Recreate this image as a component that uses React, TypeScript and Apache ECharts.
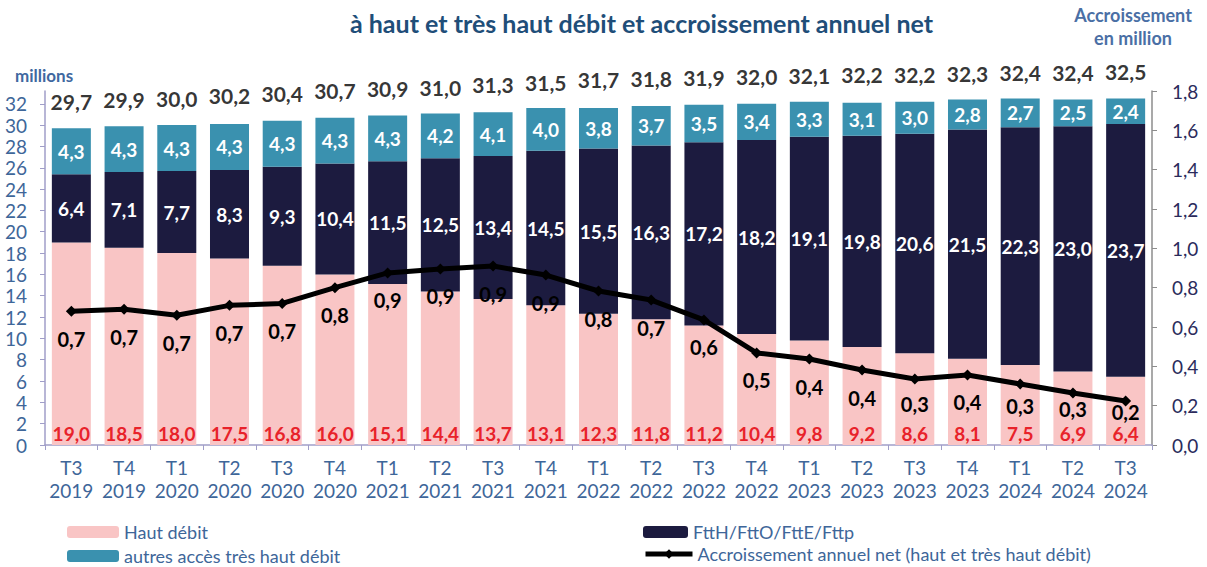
import React, { useEffect, useRef } from "react";
import * as echarts from "echarts";

const categories = [
  "T3\n2019", "T4\n2019", "T1\n2020", "T2\n2020", "T3\n2020", "T4\n2020",
  "T1\n2021", "T2\n2021", "T3\n2021", "T4\n2021", "T1\n2022", "T2\n2022",
  "T3\n2022", "T4\n2022", "T1\n2023", "T2\n2023", "T3\n2023", "T4\n2023",
  "T1\n2024", "T2\n2024", "T3\n2024",
];
const hautDebit = [19.0, 18.5, 18.0, 17.5, 16.8, 16.0, 15.1, 14.4, 13.7, 13.1, 12.3, 11.8, 11.2, 10.4, 9.8, 9.2, 8.6, 8.1, 7.5, 6.9, 6.4];
const ftth = [6.4, 7.1, 7.7, 8.3, 9.3, 10.4, 11.5, 12.5, 13.4, 14.5, 15.5, 16.3, 17.2, 18.2, 19.1, 19.8, 20.6, 21.5, 22.3, 23.0, 23.7];
const autres = [4.3, 4.3, 4.3, 4.3, 4.3, 4.3, 4.3, 4.2, 4.1, 4.0, 3.8, 3.7, 3.5, 3.4, 3.3, 3.1, 3.0, 2.8, 2.7, 2.5, 2.4];
const totals = [29.7, 29.9, 30.0, 30.2, 30.4, 30.7, 30.9, 31.0, 31.3, 31.5, 31.7, 31.8, 31.9, 32.0, 32.1, 32.2, 32.2, 32.3, 32.4, 32.4, 32.5];
const accroissement = [0.68, 0.69, 0.66, 0.71, 0.72, 0.80, 0.875, 0.895, 0.91, 0.864, 0.783, 0.737, 0.636, 0.468, 0.437, 0.381, 0.336, 0.356, 0.31, 0.264, 0.224];
const leftTicks = [0, 2, 4, 6, 8, 10, 12, 14, 16, 18, 20, 22, 24, 26, 28, 30, 32];

const FONT = "Lato";
const fmt = (v: number) => v.toFixed(1).replace(".", ",");

export default function App() {
  const ref = useRef<HTMLDivElement>(null);
  useEffect(() => {
    const chart = echarts.init(ref.current!, null, { renderer: "svg" });
    const axisBlue = "#3e6699";
    const legendText = { fontFamily: FONT, fontSize: 18, color: axisBlue };
    const mkLegend = (name: string, left: number, top: number, w: number) => ({
      left,
      top,
      itemWidth: w,
      itemHeight: 12,
      itemGap: 6,
      data: [name],
      textStyle: legendText,
      lineStyle: { width: 5 },
    });
    chart.setOption({
      animation: false,
      textStyle: { fontFamily: FONT },
      title: [
        {
          text: "à haut et très haut débit et accroissement annuel net",
          left: 345,
          top: 5,
          textStyle: { fontFamily: FONT, fontSize: 25, fontWeight: "bold", color: "#1f4e79" },
        },
        {
          text: "millions",
          left: 10,
          top: 62,
          textStyle: { fontFamily: FONT, fontSize: 17, fontWeight: "bold", color: "#3f68a0" },
        },
      ],
      graphic: [
        {
          type: "text",
          x: 1133,
          y: 15,
          style: {
            text: "Accroissement",
            x: 0,
            y: 0,
            align: "center",
            verticalAlign: "middle",
            fontFamily: FONT,
            fontSize: 18,
            fontWeight: "bold",
            fill: "#4a6fa5",
          },
        },
        {
          type: "text",
          x: 1133,
          y: 38,
          style: {
            text: "en million",
            x: 0,
            y: 0,
            align: "center",
            verticalAlign: "middle",
            fontFamily: FONT,
            fontSize: 18,
            fontWeight: "bold",
            fill: "#4a6fa5",
          },
        },
      ],
      legend: [
        mkLegend("Haut débit", 62, 518, 52),
        mkLegend("autres accès très haut débit", 62, 542, 52),
        mkLegend("FttH/FttO/FttE/Fttp", 638, 518, 45),
        mkLegend("Accroissement annuel net (haut et très haut débit)", 638, 540, 47),
      ],
      grid: { left: 45, right: 55, top: 91, bottom: 122 },
      xAxis: {
        type: "category",
        data: categories,
        axisLine: { lineStyle: { color: "#a09ec8", width: 1.5 } },
        axisTick: { show: true, length: 5, lineStyle: { color: "#a09ec8" } },
        axisLabel: { interval: 0, fontFamily: FONT, fontSize: 19, color: axisBlue, lineHeight: 23, margin: 11 },
      },
      yAxis: [
        {
          type: "value",
          min: 0,
          max: 33.2,
          interval: 2,
          splitLine: { show: false },
          axisLine: { show: true, lineStyle: { color: "#a09ec8", width: 1.5 } },
          axisTick: { show: true, length: 5, customValues: leftTicks, lineStyle: { color: "#a09ec8" } },
          axisLabel: {
            fontFamily: FONT,
            fontSize: 19,
            color: axisBlue,
            margin: 18,
            customValues: leftTicks,
          },
        },
        {
          type: "value",
          min: 0,
          max: 1.8,
          interval: 0.2,
          position: "right",
          splitLine: { show: false },
          axisLine: { show: true, lineStyle: { color: "#8c8c8c", width: 1.5 } },
          axisTick: { show: true, length: 5, lineStyle: { color: "#8c8c8c" } },
          axisLabel: {
            fontFamily: FONT,
            fontSize: 19,
            color: "#2b2b5c",
            margin: 20,
            formatter: (v: number) => fmt(v),
          },
        },
      ],
      series: [
        {
          name: "Haut débit",
          type: "bar",
          stack: "total",
          barCategoryGap: "26%",
          data: hautDebit,
          itemStyle: { color: "#f9c5c5" },
          label: {
            show: true,
            position: "insideBottom",
            distance: 2,
            fontFamily: FONT,
            fontSize: 19,
            fontWeight: "bold",
            color: "#e8222a",
            formatter: (p: any) => fmt(p.value),
          },
        },
        {
          name: "FttH/FttO/FttE/Fttp",
          type: "bar",
          stack: "total",
          data: ftth,
          itemStyle: { color: "#1c1b3f" },
          label: {
            show: true,
            position: "inside",
            fontFamily: FONT,
            fontSize: 19,
            fontWeight: "bold",
            color: "#ffffff",
            formatter: (p: any) => fmt(p.value),
          },
        },
        {
          name: "autres accès très haut débit",
          type: "bar",
          stack: "total",
          data: autres,
          itemStyle: { color: "#3a91af" },
          label: {
            show: true,
            position: "inside",
            fontFamily: FONT,
            fontSize: 19,
            fontWeight: "bold",
            color: "#ffffff",
            formatter: (p: any) => fmt(p.value),
          },
        },
        {
          name: "Total",
          type: "scatter",
          data: totals,
          symbol: "rect",
          symbolSize: 1,
          silent: true,
          itemStyle: { color: "rgba(0,0,0,0)" },
          label: {
            show: true,
            position: "top",
            distance: 16,
            fontFamily: FONT,
            fontSize: 21,
            fontWeight: "bold",
            color: "#000000",
            formatter: (p: any) => fmt(p.value),
          },
        },
        {
          name: "Accroissement annuel net (haut et très haut débit)",
          type: "line",
          yAxisIndex: 1,
          data: accroissement.map((v) => ({
            value: v,
            label: { distance: Math.max(-5, Math.min(12, (v - 0.26) * 120)) },
          })),
          symbol: "diamond",
          symbolSize: 11,
          lineStyle: { color: "#000000", width: 5 },
          itemStyle: { color: "#000000" },
          z: 5,
          label: {
            show: true,
            position: "bottom",
            fontFamily: FONT,
            fontSize: 20,
            fontWeight: "bold",
            color: "#000000",
            formatter: (p: any) => fmt(p.value),
          },
        },
      ],
    });
    return () => chart.dispose();
  }, []);
  return <div ref={ref} style={{ width: 1207, height: 567, position: "absolute", left: 0, top: 0 }} />;
}
